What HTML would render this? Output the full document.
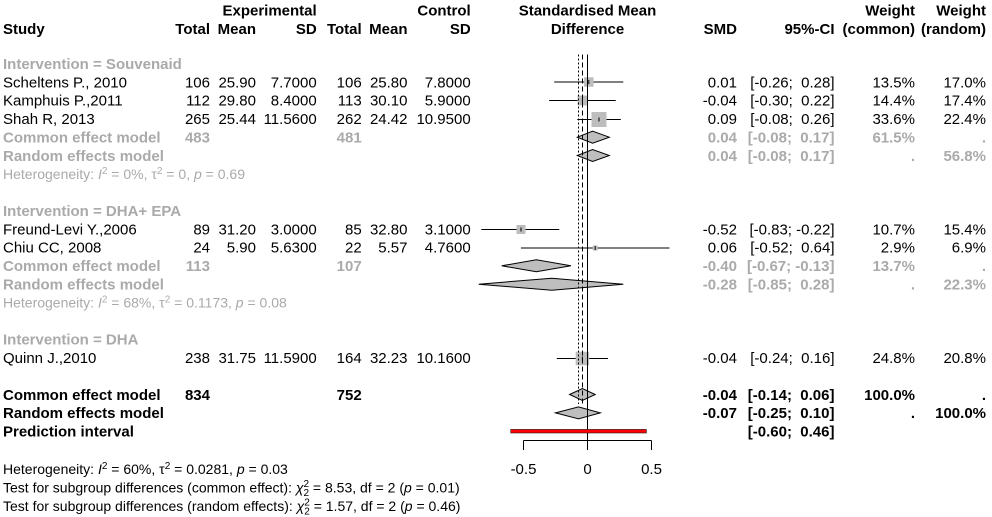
<!DOCTYPE html>
<html><head><meta charset="utf-8">
<style>
html,body{margin:0;padding:0;background:#fff;}
svg{display:block;}
text{font-family:"Liberation Sans",Arial,sans-serif;font-size:15px;fill:#000;}
.b{font-weight:bold;}
.g{fill:#aaaaaa;}
.s{font-size:14px;}
</style></head><body>
<svg width="992" height="517" viewBox="0 0 992 517" xmlns="http://www.w3.org/2000/svg">
<rect width="992" height="517" fill="#fff"/>

<!-- Headers -->
<g class="b">
<text class="b" x="316.7" y="15.3" text-anchor="end">Experimental</text>
<text class="b" x="470.7" y="15.3" text-anchor="end">Control</text>
<text class="b" x="587.5" y="15.3" text-anchor="middle">Standardised Mean</text>
<text class="b" x="915" y="15.3" text-anchor="end">Weight</text>
<text class="b" x="986" y="15.3" text-anchor="end">Weight</text>
<text class="b" x="3" y="33.8">Study</text>
<text class="b" x="210" y="33.8" text-anchor="end">Total</text>
<text class="b" x="256" y="33.8" text-anchor="end">Mean</text>
<text class="b" x="316.7" y="33.8" text-anchor="end">SD</text>
<text class="b" x="361.7" y="33.8" text-anchor="end">Total</text>
<text class="b" x="407.5" y="33.8" text-anchor="end">Mean</text>
<text class="b" x="470.7" y="33.8" text-anchor="end">SD</text>
<text class="b" x="587.5" y="33.8" text-anchor="middle">Difference</text>
<text class="b" x="737" y="33.8" text-anchor="end">SMD</text>
<text class="b" x="834.5" y="33.8" text-anchor="end">95%-CI</text>
<text class="b" x="915" y="33.8" text-anchor="end">(common)</text>
<text class="b" x="986" y="33.8" text-anchor="end">(random)</text>
</g>

<!-- Subgroup 1 -->
<text class="b g" x="3" y="68.9">Intervention = Souvenaid</text>

<text x="3" y="87.3">Scheltens P., 2010</text>
<text x="210" y="87.3" text-anchor="end">106</text>
<text x="256" y="87.3" text-anchor="end">25.90</text>
<text x="316.7" y="87.3" text-anchor="end">7.7000</text>
<text x="361.7" y="87.3" text-anchor="end">106</text>
<text x="407.5" y="87.3" text-anchor="end">25.80</text>
<text x="470.7" y="87.3" text-anchor="end">7.8000</text>
<text x="737" y="87.3" text-anchor="end">0.01</text>
<text x="834.5" y="87.3" text-anchor="end">[-0.26;&#160; 0.28]</text>
<text x="915" y="87.3" text-anchor="end">13.5%</text>
<text x="986" y="87.3" text-anchor="end">17.0%</text>

<text x="3" y="105.7">Kamphuis P.,2011</text>
<text x="210" y="105.7" text-anchor="end">112</text>
<text x="256" y="105.7" text-anchor="end">29.80</text>
<text x="316.7" y="105.7" text-anchor="end">8.4000</text>
<text x="361.7" y="105.7" text-anchor="end">113</text>
<text x="407.5" y="105.7" text-anchor="end">30.10</text>
<text x="470.7" y="105.7" text-anchor="end">5.9000</text>
<text x="737" y="105.7" text-anchor="end">-0.04</text>
<text x="834.5" y="105.7" text-anchor="end">[-0.30;&#160; 0.22]</text>
<text x="915" y="105.7" text-anchor="end">14.4%</text>
<text x="986" y="105.7" text-anchor="end">17.4%</text>

<text x="3" y="124.1">Shah R, 2013</text>
<text x="210" y="124.1" text-anchor="end">265</text>
<text x="256" y="124.1" text-anchor="end">25.44</text>
<text x="316.7" y="124.1" text-anchor="end">11.5600</text>
<text x="361.7" y="124.1" text-anchor="end">262</text>
<text x="407.5" y="124.1" text-anchor="end">24.42</text>
<text x="470.7" y="124.1" text-anchor="end">10.9500</text>
<text x="737" y="124.1" text-anchor="end">0.09</text>
<text x="834.5" y="124.1" text-anchor="end">[-0.08;&#160; 0.26]</text>
<text x="915" y="124.1" text-anchor="end">33.6%</text>
<text x="986" y="124.1" text-anchor="end">22.4%</text>

<text class="b g" x="3" y="142.5">Common effect model</text>
<text class="b g" x="210" y="142.5" text-anchor="end">483</text>
<text class="b g" x="361.7" y="142.5" text-anchor="end">481</text>
<text class="b g" x="737" y="142.5" text-anchor="end">0.04</text>
<text class="b g" x="834.5" y="142.5" text-anchor="end">[-0.08;&#160; 0.17]</text>
<text class="b g" x="915" y="142.5" text-anchor="end">61.5%</text>
<text class="b g" x="986" y="142.5" text-anchor="end">.</text>

<text class="b g" x="3" y="160.8">Random effects model</text>
<text class="b g" x="737" y="160.8" text-anchor="end">0.04</text>
<text class="b g" x="834.5" y="160.8" text-anchor="end">[-0.08;&#160; 0.17]</text>
<text class="b g" x="915" y="160.8" text-anchor="end">.</text>
<text class="b g" x="986" y="160.8" text-anchor="end">56.8%</text>

<text class="s g" x="3" y="178.9">Heterogeneity: <tspan font-style="italic">I</tspan><tspan font-size="10" dy="-5">2</tspan><tspan dy="5"> = 0%, τ</tspan><tspan font-size="10" dy="-5">2</tspan><tspan dy="5"> = 0, </tspan><tspan font-style="italic">p</tspan><tspan> = 0.69</tspan></text>

<!-- Subgroup 2 -->
<text class="b g" x="3" y="216.0">Intervention = DHA+ EPA</text>

<text x="3" y="234.4">Freund-Levi Y.,2006</text>
<text x="210" y="234.4" text-anchor="end">89</text>
<text x="256" y="234.4" text-anchor="end">31.20</text>
<text x="316.7" y="234.4" text-anchor="end">3.0000</text>
<text x="361.7" y="234.4" text-anchor="end">85</text>
<text x="407.5" y="234.4" text-anchor="end">32.80</text>
<text x="470.7" y="234.4" text-anchor="end">3.1000</text>
<text x="737" y="234.4" text-anchor="end">-0.52</text>
<text x="834.5" y="234.4" text-anchor="end">[-0.83; -0.22]</text>
<text x="915" y="234.4" text-anchor="end">10.7%</text>
<text x="986" y="234.4" text-anchor="end">15.4%</text>

<text x="3" y="252.7">Chiu CC, 2008</text>
<text x="210" y="252.7" text-anchor="end">24</text>
<text x="256" y="252.7" text-anchor="end">5.90</text>
<text x="316.7" y="252.7" text-anchor="end">5.6300</text>
<text x="361.7" y="252.7" text-anchor="end">22</text>
<text x="407.5" y="252.7" text-anchor="end">5.57</text>
<text x="470.7" y="252.7" text-anchor="end">4.7600</text>
<text x="737" y="252.7" text-anchor="end">0.06</text>
<text x="834.5" y="252.7" text-anchor="end">[-0.52;&#160; 0.64]</text>
<text x="915" y="252.7" text-anchor="end">2.9%</text>
<text x="986" y="252.7" text-anchor="end">6.9%</text>

<text class="b g" x="3" y="271.1">Common effect model</text>
<text class="b g" x="210" y="271.1" text-anchor="end">113</text>
<text class="b g" x="361.7" y="271.1" text-anchor="end">107</text>
<text class="b g" x="737" y="271.1" text-anchor="end">-0.40</text>
<text class="b g" x="834.5" y="271.1" text-anchor="end">[-0.67; -0.13]</text>
<text class="b g" x="915" y="271.1" text-anchor="end">13.7%</text>
<text class="b g" x="986" y="271.1" text-anchor="end">.</text>

<text class="b g" x="3" y="289.5">Random effects model</text>
<text class="b g" x="737" y="289.5" text-anchor="end">-0.28</text>
<text class="b g" x="834.5" y="289.5" text-anchor="end">[-0.85;&#160; 0.28]</text>
<text class="b g" x="915" y="289.5" text-anchor="end">.</text>
<text class="b g" x="986" y="289.5" text-anchor="end">22.3%</text>

<text class="s g" x="3" y="307.6">Heterogeneity: <tspan font-style="italic">I</tspan><tspan font-size="10" dy="-5">2</tspan><tspan dy="5"> = 68%, τ</tspan><tspan font-size="10" dy="-5">2</tspan><tspan dy="5"> = 0.1173, </tspan><tspan font-style="italic">p</tspan><tspan> = 0.08</tspan></text>

<!-- Subgroup 3 -->
<text class="b g" x="3" y="344.6">Intervention = DHA</text>

<text x="3" y="363.0">Quinn J.,2010</text>
<text x="210" y="363.0" text-anchor="end">238</text>
<text x="256" y="363.0" text-anchor="end">31.75</text>
<text x="316.7" y="363.0" text-anchor="end">11.5900</text>
<text x="361.7" y="363.0" text-anchor="end">164</text>
<text x="407.5" y="363.0" text-anchor="end">32.23</text>
<text x="470.7" y="363.0" text-anchor="end">10.1600</text>
<text x="737" y="363.0" text-anchor="end">-0.04</text>
<text x="834.5" y="363.0" text-anchor="end">[-0.24;&#160; 0.16]</text>
<text x="915" y="363.0" text-anchor="end">24.8%</text>
<text x="986" y="363.0" text-anchor="end">20.8%</text>

<!-- Overall -->
<text class="b" x="3" y="399.8">Common effect model</text>
<text class="b" x="210" y="399.8" text-anchor="end">834</text>
<text class="b" x="361.7" y="399.8" text-anchor="end">752</text>
<text class="b" x="737" y="399.8" text-anchor="end">-0.04</text>
<text class="b" x="834.5" y="399.8" text-anchor="end">[-0.14;&#160; 0.06]</text>
<text class="b" x="915" y="399.8" text-anchor="end">100.0%</text>
<text class="b" x="986" y="399.8" text-anchor="end">.</text>

<text class="b" x="3" y="418.2">Random effects model</text>
<text class="b" x="737" y="418.2" text-anchor="end">-0.07</text>
<text class="b" x="834.5" y="418.2" text-anchor="end">[-0.25;&#160; 0.10]</text>
<text class="b" x="915" y="418.2" text-anchor="end">.</text>
<text class="b" x="986" y="418.2" text-anchor="end">100.0%</text>

<text class="b" x="3" y="436.5">Prediction interval</text>
<text class="b" x="834.5" y="436.5" text-anchor="end">[-0.60;&#160; 0.46]</text>

<!-- Bottom text -->
<text class="s" x="3" y="474">Heterogeneity: <tspan font-style="italic">I</tspan><tspan font-size="10" dy="-5">2</tspan><tspan dy="5"> = 60%, τ</tspan><tspan font-size="10" dy="-5">2</tspan><tspan dy="5"> = 0.0281, </tspan><tspan font-style="italic">p</tspan><tspan> = 0.03</tspan></text>
<text class="s" x="3" y="492.4">Test for subgroup differences (common effect): <tspan font-style="italic">χ</tspan><tspan font-size="10" dy="-5.5">2</tspan><tspan font-size="10" dx="-5.6" dy="9">2</tspan><tspan dy="-3.5"> = 8.53, df = 2 (</tspan><tspan font-style="italic">p</tspan><tspan> = 0.01)</tspan></text>
<text class="s" x="3" y="510.8">Test for subgroup differences (random effects): <tspan font-style="italic">χ</tspan><tspan font-size="10" dy="-5.5">2</tspan><tspan font-size="10" dx="-5.6" dy="9">2</tspan><tspan dy="-3.5"> = 1.57, df = 2 (</tspan><tspan font-style="italic">p</tspan><tspan> = 0.46)</tspan></text>

<!-- Graphics -->
<g stroke="#000" stroke-width="1" fill="none">
  <!-- CI lines -->
  <line x1="554.2" y1="82" x2="623.3" y2="82"/>
  <line x1="549.1" y1="100.5" x2="615.7" y2="100.5"/>
  <line x1="577.3" y1="119.5" x2="620.8" y2="119.5"/>
  <line x1="481.3" y1="229.5" x2="559.3" y2="229.5"/>
  <line x1="520.9" y1="248" x2="669.4" y2="248"/>
  <line x1="556.8" y1="358.5" x2="608" y2="358.5"/>
</g>
<g fill="#bdbdbd" stroke="none">
  <rect x="584.05" y="77.25" width="9.5" height="9.5"/>
  <rect x="577.5" y="95.6" width="9.8" height="9.8"/>
  <rect x="591.5" y="112" width="15" height="15"/>
  <rect x="516.5" y="225" width="9" height="9"/>
  <rect x="592.7" y="245.5" width="5" height="5"/>
  <rect x="575.65" y="351.75" width="13.5" height="13.5"/>
</g>
<g stroke="#000" stroke-width="1">
  <line x1="588.8" y1="80" x2="588.8" y2="84"/>
  <line x1="582.4" y1="98.5" x2="582.4" y2="102.5"/>
  <line x1="599" y1="117.5" x2="599" y2="121.5"/>
  <line x1="521" y1="227.5" x2="521" y2="231.5"/>
  <line x1="595.2" y1="246" x2="595.2" y2="250"/>
  <line x1="582.4" y1="356.5" x2="582.4" y2="360.5"/>
</g>
<g fill="#bebebe" stroke="#000" stroke-width="1" stroke-linejoin="miter">
  <polygon points="577.3,137.2 592.6,131.2 609.3,137.2 592.6,143.2"/>
  <polygon points="577.3,155.5 592.6,149.5 609.3,155.5 592.6,161.5"/>
  <polygon points="501.7,265.8 536.3,259.8 570.9,265.8 536.3,271.8"/>
  <polygon points="478.7,284.2 551.7,278.2 623.3,284.2 551.7,290.2"/>
  <polygon points="569.6,394.5 582.4,388.5 595.2,394.5 582.4,400.5"/>
  <polygon points="555.5,412.9 578.5,406.9 600.3,412.9 578.5,418.9"/>
</g>
<!-- reference lines -->
<g stroke="#000" stroke-width="1" fill="none">
  <line x1="587.5" y1="54.5" x2="587.5" y2="450"/>
  <line x1="582.5" y1="54.5" x2="582.5" y2="404" stroke-dasharray="5 3"/>
  <line x1="578.5" y1="54.5" x2="578.5" y2="404" stroke-dasharray="2 2"/>
</g>
<!-- prediction interval -->
<rect x="510.7" y="429.4" width="135.7" height="3.6" fill="#ff0000" stroke="#222" stroke-width="0.6"/>
<!-- axis -->
<g stroke="#000" stroke-width="1">
  <line x1="523.5" y1="440.5" x2="651.5" y2="440.5"/>
  <line x1="523.5" y1="440.5" x2="523.5" y2="450"/>
  <line x1="651.5" y1="440.5" x2="651.5" y2="450"/>
</g>
<text x="523.5" y="474" text-anchor="middle">-0.5</text>
<text x="587.5" y="474" text-anchor="middle">0</text>
<text x="651.5" y="474" text-anchor="middle">0.5</text>
</svg>
</body></html>
